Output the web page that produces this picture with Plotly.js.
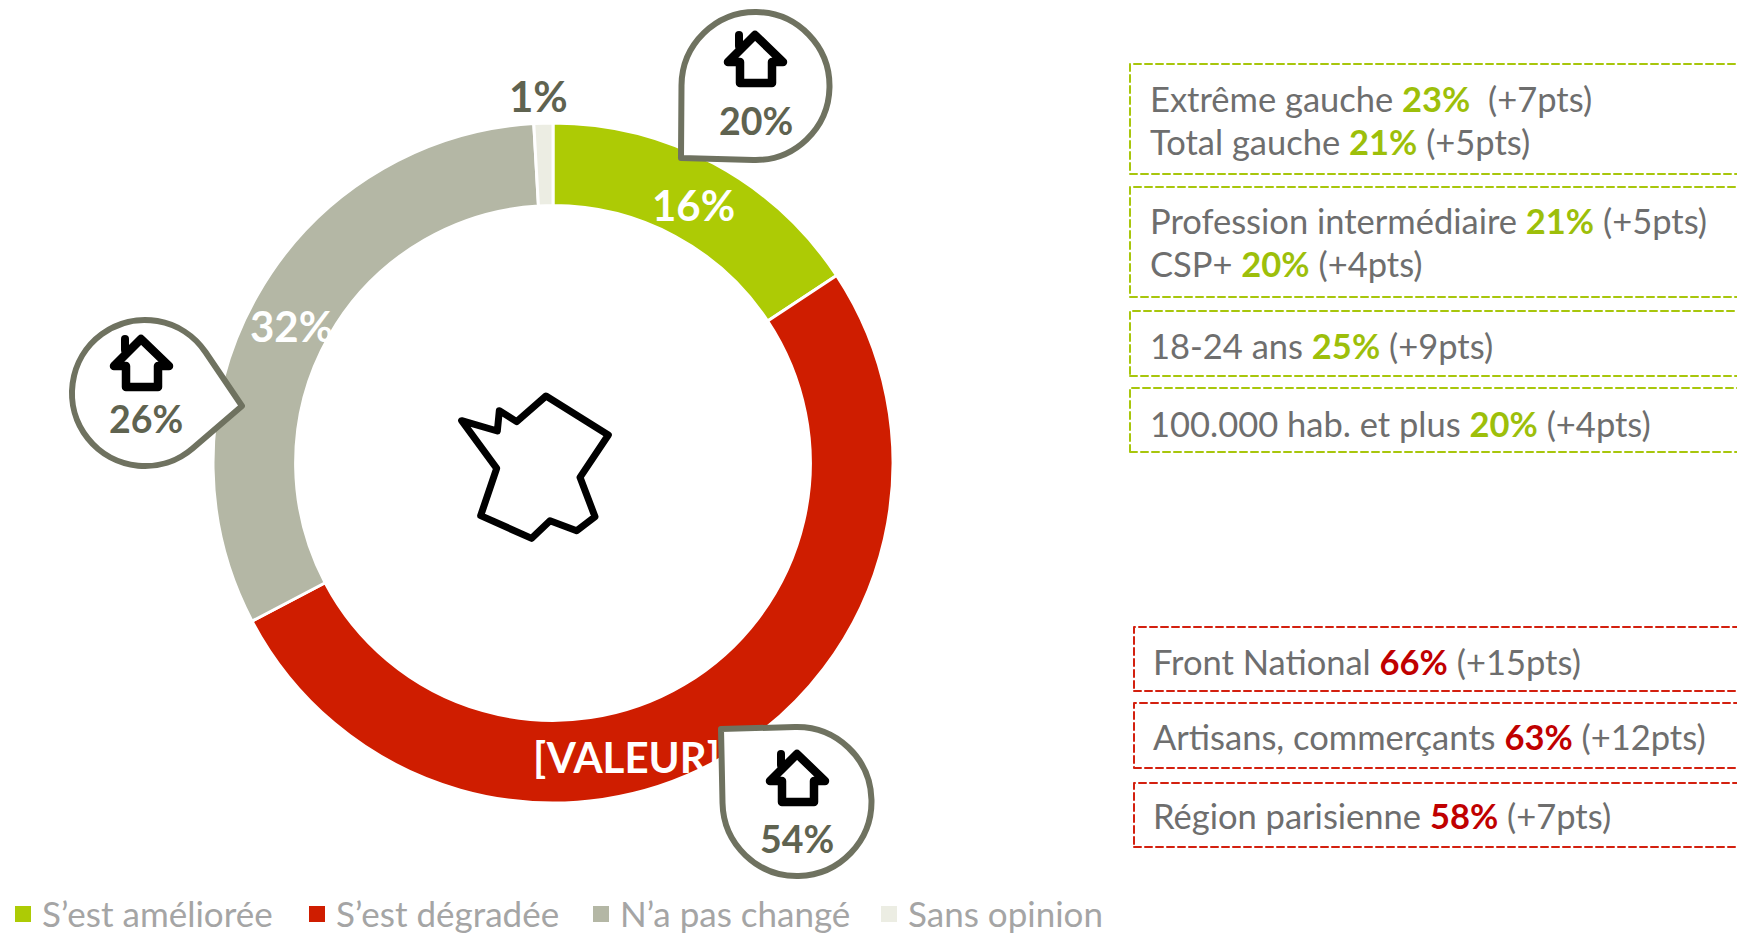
<!DOCTYPE html>
<html><head><meta charset="utf-8">
<script src="https://cdn.plot.ly/plotly-3.0.1.min.js"></script>
<style>html,body{margin:0;padding:0;background:#fff;overflow:hidden}#c{width:1737px;height:934px}</style>
</head><body><div id="c"></div>
<script>
// ---- data ----
const categories = ['S\u2019est am\u00e9lior\u00e9e','S\u2019est d\u00e9grad\u00e9e','N\u2019a pas chang\u00e9','Sans opinion'];
const shares = [15.7,51.6,31.8,0.9];
const shareLabels = ['16%','[VALEUR]','32%','1%'];
const sliceColors = ['#ADCB05','#CF1D00','#B4B7A5','#ECEDE3'];
const homeValues = ['20%','54%','26%'];
const greenNames = ['Extr\u00eame gauche','Total gauche','Profession interm\u00e9diaire','CSP+','18-24 ans','100.000 hab. et plus'];
const greenScores = ['23%','21%','21%','20%','25%','20%'];
const greenDeltas = ['\u00a0 (+7pts)',' (+5pts)',' (+5pts)',' (+4pts)',' (+9pts)',' (+4pts)'];
const redNames = ['Front National','Artisans, commer\u00e7ants','R\u00e9gion parisienne'];
const redScores = ['66%','63%','58%'];
const redDeltas = [' (+15pts)',' (+12pts)',' (+7pts)'];

// ---- layout helpers (page pixels to paper fractions) ----
const W=1737,H=934,FONT='Lato, "Open Sans", sans-serif';
const fx=x=>(x/W).toFixed(6), fy=y=>(1-y/H).toFixed(6);
const cx=553,cy=463,R=340;
const GREY='#6F7260',TXT='#6E6E6E',DARK='#5F6350',GREEN='#9DBF0A',DGREEN='#A8C60C',RED='#C00000',DRED='#D3200F';
const shapes=[],annotations=[];
function pathShape(d,opts){shapes.push(Object.assign({type:'path',xref:'paper',yref:'paper',layer:'above',path:d,line:{width:0},fillcolor:'rgba(0,0,0,0)'},opts));}
function poly(pts,close){return pts.map((p,i)=>(i?'L':'M')+fx(p[0])+' '+fy(p[1])).join(' ')+(close?' Z':'');}
function text(x,base,t,size,color,anchor,k){annotations.push({xref:'paper',yref:'paper',x:x/W,y:1-(base-size*(k||0.32))/H,text:t,showarrow:false,xanchor:anchor||'left',yanchor:'middle',align:'left',font:{family:FONT,size:size,color:color},borderpad:0,borderwidth:0});}
function teardrop(c,r,t){
  const dx=t[0]-c[0],dy=t[1]-c[1],d=Math.hypot(dx,dy),th=Math.atan2(dy,dx),a=Math.acos(r/d);
  let s=th+a,e=th-a+2*Math.PI,n=6,st=(e-s)/n,k=4/3*Math.tan(st/4);
  let out='M'+fx(t[0])+' '+fy(t[1]);
  const P=u=>[c[0]+r*Math.cos(u),c[1]+r*Math.sin(u)];
  let p=P(s); out+=' L'+fx(p[0])+' '+fy(p[1]);
  for(let i=0;i<n;i++){const u=s+i*st,v=u+st,A=P(u),B=P(v);
    out+=' C'+fx(A[0]-k*r*Math.sin(u))+' '+fy(A[1]+k*r*Math.cos(u))+' '+fx(B[0]+k*r*Math.sin(v))+' '+fy(B[1]-k*r*Math.cos(v))+' '+fx(B[0])+' '+fy(B[1]);}
  return out+' Z';
}
function house(dx,dy){
  const body=[[728,62],[755,35],[783,62],[772,62],[772,83],[740,83],[740,62]].map(p=>[p[0]+dx,p[1]+dy]);
  pathShape(poly(body,true),{line:{color:'#000',width:8.5},fillcolor:'#fff'});
  pathShape(poly([[739,35],[739,46]].map(p=>[p[0]+dx,p[1]+dy])),{line:{color:'#000',width:8}});
}
function dashedBox(x,t,b,col){shapes.push({type:'rect',xref:'paper',yref:'paper',layer:'above',x0:x/W,x1:1790/W,y0:1-b/H,y1:1-t/H,line:{color:col,width:2,dash:'7px,4px'}});}

// ---- pie labels ----
const labelPos=[[693,218],[626,770],[291,339],[538,109]];
shareLabels.forEach((t,i)=>{text(labelPos[i][0],labelPos[i][1],'<b>'+t+'</b>',42,i===3?DARK:'#fff','center');});

// ---- France outline ----
const france=[[65,152],[172,183],[178,122],[230,155],[318,78],[505,195],[420,322],[465,440],[410,482],[330,452],[275,505],[122,437],[170,295]].map(p=>[p[0]/3+440,p[1]/3+370]);
pathShape(poly(france,true),{line:{color:'#000',width:7}});

// ---- callouts ----
const callouts=[{c:[755.5,86],r:74,t:[681,158],h:[0,0],v:[755.5,133]},{c:[797,801.5],r:74.5,t:[721,729],h:[42,719],v:[797,850]},{c:[145,393],r:73,t:[242,406],h:[-614,304],v:[146,430]}];
callouts.forEach((k,i)=>{
  pathShape(teardrop(k.c,k.r,k.t),{line:{color:GREY,width:6},fillcolor:'#fff'});
  house(k.h[0],k.h[1]);
  text(k.v[0],k.v[1],'<b>'+homeValues[i]+'</b>',37.5,DARK,'center');
});

// ---- side boxes ----
[[64,174],[187,297],[311,376],[388,452]].forEach(b=>dashedBox(1130,b[0],b[1],DGREEN));
[[627,691],[703,768],[783,847]].forEach(b=>dashedBox(1134,b[0],b[1],DRED));
const greenBase=[110,153,232,275,357,435];
greenNames.forEach((n,i)=>text(1150,greenBase[i],n+' <b style="color:'+GREEN+'">'+greenScores[i]+'</b>'+greenDeltas[i],34.5,TXT));
const redBase=[673,748,827];
redNames.forEach((n,i)=>text(1153,redBase[i],n+' <b style="color:'+RED+'">'+redScores[i]+'</b>'+redDeltas[i],34.5,TXT));

// ---- legend ----
const legX=[15,309,593,881], legTextX=[42,336,620,908];
categories.forEach((n,i)=>{
  shapes.push({type:'rect',xref:'paper',yref:'paper',layer:'above',x0:legX[i]/W,x1:(legX[i]+16)/W,y0:1-922/H,y1:1-906/H,fillcolor:sliceColors[i],line:{width:0}});
  text(legTextX[i],926,n,35,'#A5A5A5','left',0.37);
});

const trace={type:'pie',labels:categories,values:shares,sort:false,direction:'clockwise',rotation:0,hole:0.757,
  textinfo:'none',hoverinfo:'none',showlegend:false,
  marker:{colors:sliceColors,line:{color:'#fff',width:3}},
  domain:{x:[(cx-R)/W,(cx+R)/W],y:[1-(cy+R)/H,1-(cy-R)/H]}};
Plotly.newPlot('c',[trace],{width:W,height:H,margin:{l:0,r:0,t:0,b:0},paper_bgcolor:'#fff',showlegend:false,shapes:shapes,annotations:annotations,font:{family:FONT}},{displayModeBar:false,staticPlot:true}).then(()=>{
  document.querySelectorAll('.shapelayer path').forEach(p=>{p.style.strokeLinejoin='round';p.style.strokeLinecap='round';});
});
</script></body></html>
